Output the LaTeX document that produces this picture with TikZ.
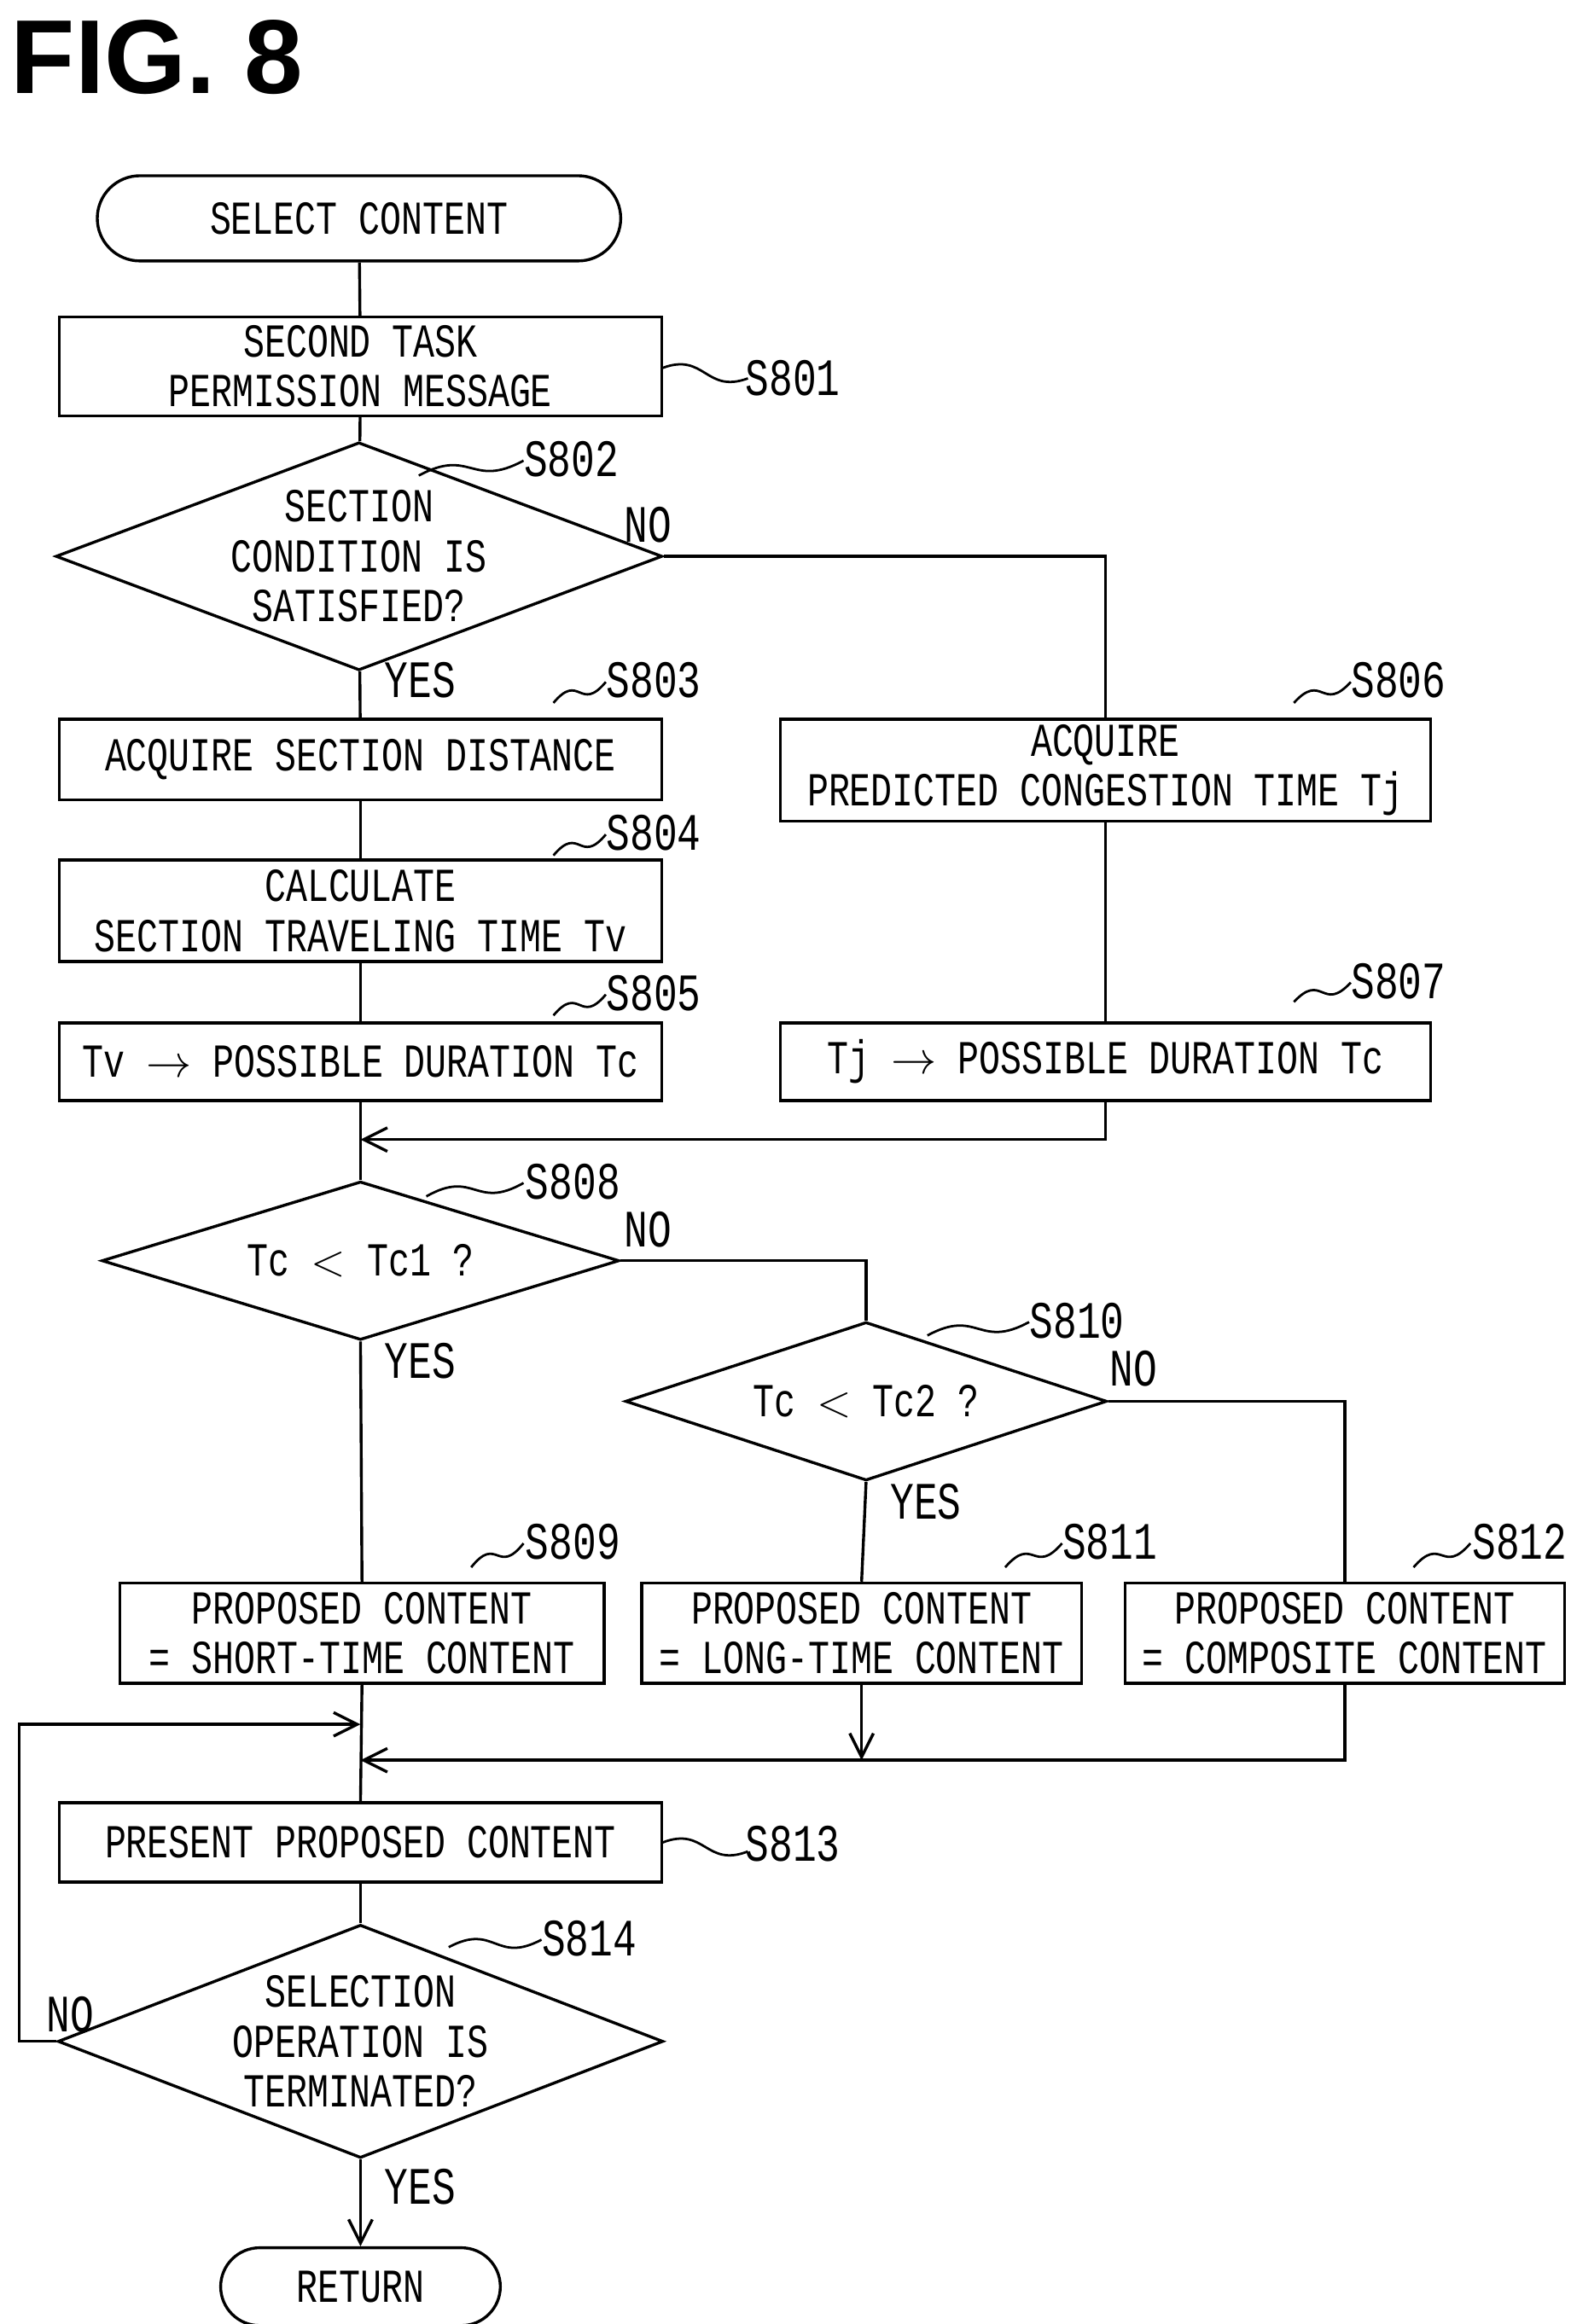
\documentclass[tikz,border=0pt]{standalone}
\usepackage{fontspec}
\setmainfont[FakeStretch=0.75]{Liberation Mono}
\newfontfamily\titlefont{Liberation Sans}
\usetikzlibrary{shapes.geometric,shapes.misc,arrows.meta,calc}

\begin{document}
\begin{tikzpicture}[x=0.02cm,y=-0.02cm,line width=1.1pt,
    txt/.style={font=\fontsize{18}{19}\selectfont,align=center},
    box/.style={draw,txt,rectangle,inner sep=0pt},
    term/.style={draw,txt,rounded rectangle,inner sep=0pt},
    dec/.style={draw,txt,diamond,aspect=2.66,inner sep=0pt},
    lab/.style={font=\fontsize{20}{20}\selectfont},
    arr/.style={-{Straight Barb[length=9pt,width=9pt]}}]

    \useasboundingbox (0,0) rectangle (1050,1554);

    \node[font=\titlefont\bfseries\fontsize{40}{40}\selectfont] (title) at (105,38) {FIG. 8};

    % nodes
    \node[term,minimum width=7cm,minimum height=1.14cm] (start) at (240,146) {SELECT CONTENT};
    \node[box,minimum width=8.06cm,minimum height=1.32cm] (s801) at (241,245) {SECOND TASK\\PERMISSION MESSAGE};
    \node[dec,minimum width=6.92cm,minimum height=2.6cm] (s802) at (240,372) {SECTION\\CONDITION IS\\SATISFIED?};
    \node[box,minimum width=8.06cm,minimum height=1.08cm] (s803) at (241,508) {ACQUIRE SECTION DISTANCE};
    \node[box,minimum width=8.06cm,minimum height=1.36cm] (s804) at (241,609) {CALCULATE\\SECTION TRAVELING TIME Tv};
    \node[box,minimum width=8.06cm,minimum height=1.04cm] (s805) at (241,710) {Tv $\rightarrow$ POSSIBLE DURATION Tc};
    \node[box,minimum width=8.7cm,minimum height=1.36cm] (s806) at (739,515) {ACQUIRE\\PREDICTED CONGESTION TIME Tj};
    \node[box,minimum width=8.7cm,minimum height=1.04cm] (s807) at (739,710) {Tj $\rightarrow$ POSSIBLE DURATION Tc};
    \node[dec,minimum width=6.92cm,minimum height=2.12cm] (s808) at (241,843) {Tc $<$ Tc1 ?};
    \node[dec,minimum width=6.44cm,minimum height=2.12cm] (s810) at (579,937) {Tc $<$ Tc2 ?};
    \node[box,minimum width=6.48cm,minimum height=1.34cm] (s809) at (242,1092) {PROPOSED CONTENT\\= SHORT-TIME CONTENT};
    \node[box,minimum width=5.88cm,minimum height=1.34cm] (s811) at (576,1092) {PROPOSED CONTENT\\= LONG-TIME CONTENT};
    \node[box,minimum width=5.88cm,minimum height=1.34cm] (s812) at (899,1092) {PROPOSED CONTENT\\= COMPOSITE CONTENT};
    \node[box,minimum width=8.06cm,minimum height=1.06cm] (s813) at (241,1232) {PRESENT PROPOSED CONTENT};
    \node[dec,minimum width=6.92cm,minimum height=3.12cm] (s814) at (241,1365) {SELECTION\\OPERATION IS\\TERMINATED?};
    \node[term,minimum width=3.74cm,minimum height=1.04cm] (ret) at (241,1529) {RETURN};

    \coordinate (m1) at (241,762);
    \coordinate (m2) at (241,1177);
    \coordinate (m3) at (241,1153);

    % connectors
    \draw (start) -- (s801);
    \draw (s801) -- (s802);
    \draw (s802) -- (s803);
    \draw (s803) -- (s804);
    \draw (s804) -- (s805);
    \draw (s805.south) -- (s808.north);
    \draw (s802.east) -| (s806.north);
    \draw (s806) -- (s807);
    \draw[arr] (s807.south) |- (m1);
    \draw (s808.east) -| (s810.north);
    \draw (s808.south) -- (s809.north);
    \draw (s810.south) -- (s811.north);
    \draw (s810.east) -| (s812.north);
    \draw (s809.south) -- (s813.north);
    \draw[arr] (s811.south) -- (s811.south |- m2);
    \draw[arr] (s812.south) |- (m2);
    \draw[arr] (s814.west) -- (13,1365) |- (m3);
    \draw (s813) -- (s814);
    \draw[arr] (s814.south) -- (ret.north);

    % yes / no
    \node[lab] (n1) at (433,351) {NO};
    \node[lab] (y1) at (281,455) {YES};
    \node[lab] (n2) at (433,822) {NO};
    \node[lab] (y2) at (281,910) {YES};
    \node[lab] (n3) at (758,915) {NO};
    \node[lab] (y3) at (619,1004) {YES};
    \node[lab] (n4) at (47,1347) {NO};
    \node[lab] (y4) at (281,1462) {YES};

    % step labels
    \foreach \t/\x/\y/\ax/\ay/\bx/\by in {
        S801/530/253/443/246/500/253,
        S802/382/307/280/318/350/308,
        S803/437/455/370/470/405/456,
        S804/437/557/370/572/405/558,
        S805/437/664/370/679/405/665,
        S806/935/455/865/470/903/456,
        S807/935/656/865/670/903/657,
        S808/383/790/285/800/350/791,
        S809/383/1031/315/1048/350/1032,
        S810/720/883/620/893/688/884,
        S811/742/1031/672/1048/710/1032,
        S812/1016/1031/945/1048/983/1032,
        S813/530/1233/443/1232/500/1238,
        S814/394/1296/300/1302/362/1297}
    {
    \node[lab] (l\t) at (\x,\y) {\t};
    \draw[line width=0.9pt] (\ax,\ay) .. controls ($(\ax,\ay)!0.5!(\bx,\by)+(0,-14)$) and ($(\ax,\ay)!0.5!(\bx,\by)+(0,14)$) .. (\bx,\by);
    }

\end{tikzpicture}
\end{document}
